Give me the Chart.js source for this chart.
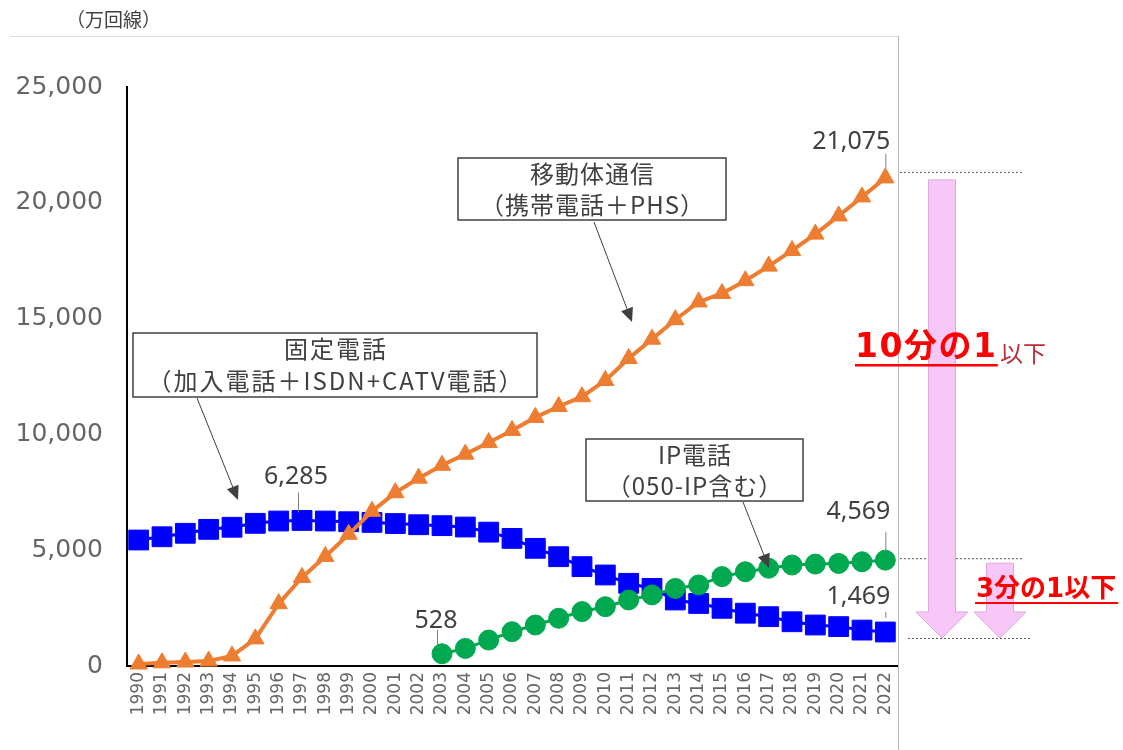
<!DOCTYPE html>
<html>
<head>
<meta charset="utf-8">
<script src="https://cdn.jsdelivr.net/npm/chart.js@4.4.0/dist/chart.umd.min.js"></script>
<style>
  html, body { margin: 0; padding: 0; background: #fff; }
  canvas { display: block; }
</style>
</head>
<body>
<canvas id="chart" width="1123" height="750"></canvas>
<script>
// data (万回線)
const years = ["1990","1991","1992","1993","1994","1995","1996","1997","1998","1999",
  "2000","2001","2002","2003","2004","2005","2006","2007","2008","2009","2010",
  "2011","2012","2013","2014","2015","2016","2017","2018","2019","2020","2021","2022"];

const mobile = [87, 138, 171, 213, 433, 1171, 2691, 3825, 4731, 5685,
  6678, 7482, 8112, 8665, 9147, 9648, 10172, 10734, 11205, 11629, 12329,
  13276, 14113, 14952, 15719, 16085, 16637, 17266, 17940, 18648, 19433, 20253, 21075];

const fixedLine = [5440, 5580, 5730, 5900, 5990, 6160, 6260, 6285, 6260, 6230,
  6200, 6150, 6100, 6060, 6000, 5780, 5510, 5080, 4720, 4290, 3930,
  3570, 3350, 2850, 2700, 2490, 2280, 2130, 1910, 1770, 1700, 1550, 1469];

const ipPhone = [null, null, null, null, null, null, null, null, null, null,
  null, null, null, 528, 760, 1120, 1480, 1770, 2060, 2350, 2560,
  2850, 3070, 3350, 3500, 3860, 4070, 4220, 4360, 4400, 4430, 4500, 4569];

const yMin = 0, yMax = 25000, yStep = 5000;

const fmt = v => Number(v).toLocaleString("en-US");
const JP = '"Noto Sans CJK JP", "Noto Sans", sans-serif';
const NUM = '"Noto Sans", sans-serif';
const WIDE = '"DejaVu Sans", "Noto Sans CJK JP", sans-serif';

// small helpers for the overlay
function lineArrow(ctx, x1, y1, x2, y2, head) {
  const a = Math.atan2(y2 - y1, x2 - x1);
  ctx.beginPath();
  ctx.moveTo(x1, y1);
  ctx.lineTo(x2 - head * 0.7 * Math.cos(a), y2 - head * 0.7 * Math.sin(a));
  ctx.stroke();
  ctx.beginPath();
  ctx.moveTo(x2, y2);
  ctx.lineTo(x2 - head * Math.cos(a) + head * 0.45 * Math.sin(a), y2 - head * Math.sin(a) - head * 0.45 * Math.cos(a));
  ctx.lineTo(x2 - head * Math.cos(a) - head * 0.45 * Math.sin(a), y2 - head * Math.sin(a) + head * 0.45 * Math.cos(a));
  ctx.closePath();
  ctx.fill();
}

function blockArrow(ctx, cx, top, tip, shaftW, headW, headH) {
  ctx.beginPath();
  ctx.moveTo(cx - shaftW / 2, top);
  ctx.lineTo(cx + shaftW / 2, top);
  ctx.lineTo(cx + shaftW / 2, tip - headH);
  ctx.lineTo(cx + headW / 2, tip - headH);
  ctx.lineTo(cx, tip);
  ctx.lineTo(cx - headW / 2, tip - headH);
  ctx.lineTo(cx - shaftW / 2, tip - headH);
  ctx.closePath();
  ctx.fillStyle = "#f7c8f7";
  ctx.fill();
  ctx.strokeStyle = "#dfa6df";
  ctx.lineWidth = 1;
  ctx.stroke();
}

function box(ctx, x, y, w, h, lines, lineGap, spacing) {
  ctx.fillStyle = "#fff";
  ctx.fillRect(x, y, w, h);
  ctx.strokeStyle = "#404040";
  ctx.lineWidth = 1.5;
  ctx.strokeRect(x, y, w, h);
  ctx.fillStyle = "#404040";
  ctx.font = "24px " + JP;
  ctx.letterSpacing = spacing + "px";
  ctx.textAlign = "center";
  ctx.textBaseline = "middle";
  const cy = y + h / 2;
  lines.forEach((t, i) => {
    ctx.fillText(t, x + w / 2 + spacing / 2, cy + (i - (lines.length - 1) / 2) * lineGap);
  });
  ctx.letterSpacing = "0px";
}

const overlay = {
  id: "overlay",
  beforeDraw(chart) {
    const ctx = chart.ctx;
    ctx.save();
    ctx.fillStyle = "#fff";
    ctx.fillRect(0, 0, chart.width, chart.height);
    // faint frame
    ctx.strokeStyle = "#dcdcdc";
    ctx.lineWidth = 1;
    ctx.beginPath();
    ctx.moveTo(10, 36.5); ctx.lineTo(898, 36.5);
    ctx.stroke();
    ctx.strokeStyle = "#b8b8b8";
    ctx.beginPath();
    ctx.moveTo(898.5, 36); ctx.lineTo(898.5, 750);
    ctx.stroke();
    // unit
    ctx.fillStyle = "#404040";
    ctx.font = "19px " + JP;
    ctx.textAlign = "left";
    ctx.textBaseline = "middle";
    ctx.fillText("（万回線）", 66, 20);
    ctx.restore();
  },
  afterDatasetsDraw(chart) {
    const ctx = chart.ctx;
    const last = years.length - 1;
    const pMob = chart.getDatasetMeta(0).data;
    const pIp = chart.getDatasetMeta(1).data;
    const pFix = chart.getDatasetMeta(2).data;
    ctx.save();

    // value labels with short leader lines
    ctx.font = "25px " + NUM;
    ctx.fillStyle = "#404040";
    ctx.strokeStyle = "#7f7f7f";
    ctx.lineWidth = 1;
    ctx.textBaseline = "middle";
    const lbl = (pt, val, dx, align, lineTop, lineBot, textY) => {
      ctx.beginPath();
      ctx.moveTo(pt.x + dx + 0.5, pt.y - lineTop);
      ctx.lineTo(pt.x + dx + 0.5, pt.y - lineBot);
      ctx.stroke();
      ctx.textAlign = align;
      ctx.fillText(fmt(val), align === "right" ? pt.x + 5 : pt.x - 6, pt.y - textY);
    };
    const i97 = fixedLine.indexOf(Math.max(...fixedLine));
    lbl(pFix[i97], fixedLine[i97], -4, "center", 8, 28, 44);
    const i03 = ipPhone.findIndex(v => v !== null);
    lbl(pIp[i03], ipPhone[i03], -5, "center", 6, 24, 33);
    lbl(pIp[last], ipPhone[last], 0, "right", 10, 28, 48);
    lbl(pFix[last], fixedLine[last], 0, "right", 14, 20, 35);
    lbl(pMob[last], mobile[last], 0, "right", 10, 24, 36);

    // callout boxes
    ctx.fillStyle = "#404040";
    ctx.strokeStyle = "#404040";
    ctx.lineWidth = 1;
    lineArrow(ctx, 594, 222, 632, 322, 14);
    lineArrow(ctx, 197, 398, 238, 500, 14);
    lineArrow(ctx, 743, 502, 769, 568, 14);
    box(ctx, 458, 158, 268, 62, ["移動体通信", "（携帯電話＋PHS）"], 31, 1);
    box(ctx, 133, 333, 404, 64, ["固定電話", "（加入電話＋ISDN+CATV電話）"], 32, 2);
    box(ctx, 586, 439, 217, 62, ["IP電話", "（050-IP含む）"], 31, 1);

    // right side comparison
    const yTop = pMob[last].y - 6;
    const yMid = pIp[last].y - 2;
    const yBot = pFix[last].y + 6;
    ctx.strokeStyle = "#595959";
    ctx.lineWidth = 1;
    ctx.setLineDash([2, 2]);
    ctx.beginPath();
    ctx.moveTo(900, yTop + 0.5); ctx.lineTo(1023, yTop + 0.5);
    ctx.moveTo(900, yMid + 0.5); ctx.lineTo(1023, yMid + 0.5);
    ctx.moveTo(908, yBot + 0.5); ctx.lineTo(1031, yBot + 0.5);
    ctx.stroke();
    ctx.setLineDash([]);

    blockArrow(ctx, 942, yTop + 8, yBot, 27, 52, 26);
    blockArrow(ctx, 1000, yMid + 5, yBot, 27, 52, 26);

    ctx.textBaseline = "middle";
    ctx.textAlign = "left";
    ctx.fillStyle = "#ff0000";
    ctx.font = "bold 33px " + WIDE;
    ctx.letterSpacing = "1.5px";
    const t1 = "10分の1";
    ctx.fillText(t1, 855, 348);
    const w1 = ctx.measureText(t1).width - 1.5;
    ctx.letterSpacing = "0px";
    ctx.fillRect(855, 364, w1 + 2, 2.5);
    ctx.fillStyle = "#b5303a";
    ctx.font = "23px " + JP;
    ctx.fillText("以下", 859 + w1, 353);

    ctx.fillStyle = "#ff0000";
    ctx.font = "bold 26px " + WIDE;
    const t2 = "3分の1以下";
    ctx.fillText(t2, 976, 590);
    const w2 = ctx.measureText(t2).width;
    ctx.fillRect(975, 602, w2 + 3, 2);

    ctx.restore();
  }
};

new Chart(document.getElementById("chart"), {
  type: "line",
  data: {
    labels: years,
    datasets: [
      {
        label: "移動体通信（携帯電話＋PHS）",
        data: mobile,
        borderColor: "#ed7d31",
        backgroundColor: "#ed7d31",
        borderWidth: 4,
        pointStyle: "triangle",
        pointRadius: 10,
        pointBorderWidth: 1,
        clip: false
      },
      {
        label: "IP電話（050-IP含む）",
        data: ipPhone,
        borderColor: "#00a84f",
        backgroundColor: "#00a84f",
        borderWidth: 3,
        pointStyle: "circle",
        pointRadius: 10,
        pointBorderWidth: 1,
        spanGaps: false,
        clip: false
      },
      {
        label: "固定電話（加入電話＋ISDN+CATV電話）",
        data: fixedLine,
        borderColor: "#0000ff",
        backgroundColor: "#0000ff",
        borderWidth: 3,
        pointStyle: "rect",
        pointRadius: 14,
        pointBorderWidth: 1,
        clip: false
      }
    ]
  },
  options: {
    responsive: false,
    animation: false,
    devicePixelRatio: 1,
    layout: { padding: { left: 0, top: 87, right: 226, bottom: 0 } },
    plugins: {
      legend: { display: false },
      tooltip: { enabled: false }
    },
    scales: {
      x: {
        type: "category",
        offset: true,
        grid: { display: false, drawTicks: false },
        border: { display: true, color: "#000", width: 2 },
        ticks: {
          autoSkip: false,
          maxRotation: 90,
          minRotation: 90,
          padding: 6,
          color: "#666",
          font: { family: '"DejaVu Sans", sans-serif', size: 17 }
        },
        afterFit: s => { s.height = 84; }
      },
      y: {
        min: yMin,
        max: yMax,
        grid: { display: false, drawTicks: false },
        border: { display: true, color: "#000", width: 2 },
        ticks: {
          stepSize: yStep,
          padding: 24,
          color: "#666",
          font: { family: '"DejaVu Sans", sans-serif', size: 25 },
          callback: v => fmt(v)
        },
        afterFit: s => { s.width = 127; }
      }
    }
  },
  plugins: [overlay]
});
</script>
</body>
</html>
